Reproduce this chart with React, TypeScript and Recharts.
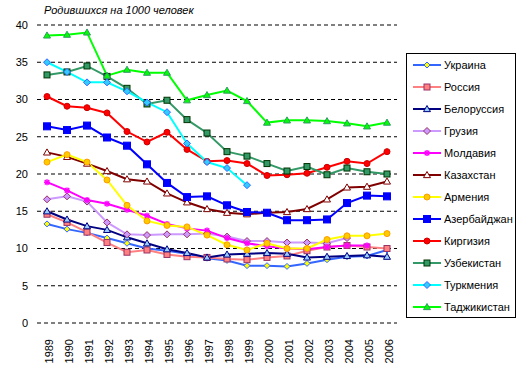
import { CartesianGrid, Line, LineChart, XAxis, YAxis } from 'recharts'

const years = [
  '1989', '1990', '1991', '1992', '1993', '1994', '1995', '1996', '1997',
  '1998', '1999', '2000', '2001', '2002', '2003', '2004', '2005', '2006',
]
const yTicks = [0, 5, 10, 15, 20, 25, 30, 35, 40]

const ukraine = [13.3, 12.6, 12.1, 11.4, 10.7, 10.0, 9.7, 9.3, 8.7, 8.4, 7.7, 7.7, 7.6, 8.0, 8.5, 8.9, 9.0, 9.8]
const russia = [14.6, 13.5, 12.2, 10.8, 9.5, 9.8, 9.2, 8.9, 8.8, 8.6, 8.5, 8.8, 9.0, 9.7, 10.2, 10.4, 10.2, 10.0]
const belarus = [15.0, 13.9, 13.0, 12.5, 11.5, 10.7, 9.9, 9.4, 8.8, 9.2, 9.3, 9.4, 9.3, 8.8, 8.9, 9.0, 9.1, 8.9]
const georgia = [16.6, 17.0, 16.3, 13.5, 11.9, 11.8, 11.9, 11.9, 12.0, 11.6, 11.0, 11.0, 10.8, 10.8, 10.7, 11.4, null, null]
const moldavia = [18.9, 17.8, 16.5, 16.0, 15.2, 14.4, 13.3, 12.7, 12.4, 11.4, 10.7, 10.3, 10.0, 9.9, 10.2, 10.4, 10.4, null]
const kazakhstan = [22.9, 22.3, 21.4, 20.4, 19.3, 19.0, 17.4, 16.2, 15.3, 14.8, 14.6, 14.8, 14.9, 15.3, 16.6, 18.2, 18.3, 19.0]
const armenia = [21.6, 22.6, 21.6, 19.2, 15.8, 13.7, 13.1, 12.9, 11.8, 10.5, 9.8, 10.7, 10.0, 10.0, 11.2, 11.7, 11.7, 12.0]
const azerbaijan = [26.4, 25.9, 26.5, 24.9, 23.8, 21.3, 18.8, 16.9, 17.0, 15.8, 14.9, 14.8, 13.8, 13.8, 13.9, 16.1, 17.1, 17.0]
const kirgizia = [30.4, 29.1, 28.9, 28.2, 25.7, 24.3, 25.6, 23.3, 21.7, 21.8, 21.4, 19.8, 19.9, 20.1, 20.9, 21.7, 21.4, 23.0]
const uzbekistan = [33.3, 33.7, 34.5, 33.1, 31.5, 29.4, 29.9, 27.3, 25.5, 23.0, 22.4, 21.4, 20.4, 21.0, 19.9, 20.8, 20.3, 20.0]
const turkmenia = [35.0, 33.7, 32.3, 32.3, 31.1, 29.6, 28.3, 24.1, 21.6, 20.8, 18.5, null, null, null, null, null, null, null]
const tajikistan = [38.6, 38.7, 39.0, 33.2, 34.0, 33.6, 33.6, 29.9, 30.6, 31.2, 29.8, 26.9, 27.2, 27.2, 27.1, 26.8, 26.4, 26.9]

type Shape = 'diamond' | 'square' | 'triangle' | 'circle' | 'star'

const series: {
  key: string
  name: string
  values: (number | null)[]
  color: string
  shape: Shape
  fill: string
  border: string
  size: number
}[] = [
  { key: 'ua', name: 'Украина', values: ukraine, color: '#3366ff', shape: 'diamond', fill: '#ffff00', border: '#3366ff', size: 3 },
  { key: 'ru', name: 'Россия', values: russia, color: '#ff8080', shape: 'square', fill: '#ff8080', border: '#993366', size: 3 },
  { key: 'by', name: 'Белоруссия', values: belarus, color: '#000080', shape: 'triangle', fill: '#99ccff', border: '#000080', size: 3.5 },
  { key: 'ge', name: 'Грузия', values: georgia, color: '#cc99ff', shape: 'diamond', fill: '#cc99ff', border: '#993366', size: 3.5 },
  { key: 'md', name: 'Молдавия', values: moldavia, color: '#ff00ff', shape: 'star', fill: '#ff00ff', border: '#ff00ff', size: 3 },
  { key: 'kz', name: 'Казахстан', values: kazakhstan, color: '#800000', shape: 'triangle', fill: '#ffffff', border: '#800000', size: 3.5 },
  { key: 'am', name: 'Армения', values: armenia, color: '#ffff00', shape: 'circle', fill: '#ffcc00', border: '#ff9900', size: 3 },
  { key: 'az', name: 'Азербайджан', values: azerbaijan, color: '#0000ff', shape: 'square', fill: '#0000ff', border: '#0000ff', size: 3.5 },
  { key: 'kg', name: 'Киргизия', values: kirgizia, color: '#ff0000', shape: 'circle', fill: '#ff0000', border: '#cc0000', size: 3 },
  { key: 'uz', name: 'Узбекистан', values: uzbekistan, color: '#339966', shape: 'square', fill: '#339966', border: '#003300', size: 3 },
  { key: 'tm', name: 'Туркмения', values: turkmenia, color: '#00ffff', shape: 'diamond', fill: '#33ccff', border: '#3366ff', size: 3.5 },
  { key: 'tj', name: 'Таджикистан', values: tajikistan, color: '#00ff00', shape: 'triangle', fill: '#00ff00', border: '#339966', size: 3.5 },
]

const chartData = years.map((year, i) => {
  const row: Record<string, string | number | null> = { year }
  series.forEach((s) => {
    row[s.key] = s.values[i]
  })
  return row
})

const font = '"Liberation Sans", Arial, sans-serif'

function Marker({ shape, cx, cy, fill, border, size }: {
  shape: Shape
  cx: number
  cy: number
  fill: string
  border: string
  size: number
}) {
  const s = size
  if (shape === 'diamond') {
    return <polygon points={`${cx},${cy - s} ${cx + s},${cy} ${cx},${cy + s} ${cx - s},${cy}`} fill={fill} stroke={border} strokeWidth={1} />
  }
  if (shape === 'square') {
    return <rect x={cx - s} y={cy - s} width={s * 2} height={s * 2} fill={fill} stroke={border} strokeWidth={1} />
  }
  if (shape === 'triangle') {
    return <polygon points={`${cx},${cy - s} ${cx + s},${cy + s * 0.75} ${cx - s},${cy + s * 0.75}`} fill={fill} stroke={border} strokeWidth={1} />
  }
  if (shape === 'circle') {
    return <circle cx={cx} cy={cy} r={s} fill={fill} stroke={border} strokeWidth={1} />
  }
  return (
    <g stroke={border} strokeWidth={1.5}>
      <line x1={cx - s} y1={cy} x2={cx + s} y2={cy} />
      <line x1={cx} y1={cy - s} x2={cx} y2={cy + s} />
      <line x1={cx - s * 0.75} y1={cy - s * 0.75} x2={cx + s * 0.75} y2={cy + s * 0.75} />
      <line x1={cx - s * 0.75} y1={cy + s * 0.75} x2={cx + s * 0.75} y2={cy - s * 0.75} />
    </g>
  )
}

function YearTick({ x, y, payload }: { x?: number; y?: number; payload?: { value: string } }) {
  return (
    <text
      transform={`translate(${(x ?? 0) + 2},${(y ?? 0) + 8}) rotate(-90)`}
      textAnchor="end"
      dominantBaseline="central"
      fontSize={11}
      fontFamily={font}
      fill="#000"
    >
      {payload?.value}
    </text>
  )
}

function renderLegend() {
  return (
    <div
      style={{
        position: 'absolute',
        left: 406,
        top: 53,
        width: 108,
        height: 263,
        border: '1px solid #000',
        background: '#fff',
        fontFamily: font,
        fontSize: 11,
      }}
    >
      {series.map((s, i) => (
        <div
          key={s.key}
          style={{ position: 'absolute', left: 6, top: 4 + i * 22, height: 14, display: 'flex', alignItems: 'center' }}
        >
          <svg width={28} height={14} style={{ display: 'block' }}>
            <line x1={0} y1={7} x2={28} y2={7} stroke={s.color} strokeWidth={2} />
            <Marker shape={s.shape} cx={14} cy={7} fill={s.fill} border={s.border} size={s.size} />
          </svg>
          <span style={{ marginLeft: 3, whiteSpace: 'nowrap' }}>{s.name}</span>
        </div>
      ))}
    </div>
  )
}

export default function App() {
  return (
    <div style={{ position: 'absolute', left: 0, top: 0, width: 528, height: 372, background: '#fff' }}>
      <style>{'body{margin:0}'}</style>
      <div
        style={{
          position: 'absolute',
          left: 44,
          top: 4,
          fontFamily: font,
          fontSize: 11,
          fontStyle: 'italic',
          whiteSpace: 'nowrap',
        }}
      >
        Родившихся на 1000 человек
      </div>
      <LineChart
        width={528}
        height={372}
        data={chartData}
        margin={{ top: 25, right: 131, left: 0, bottom: 0 }}
      >
        <CartesianGrid stroke="#000" strokeDasharray="4 3" vertical={false} horizontalFill={[]} />
        <XAxis
          dataKey="year"
          axisLine={false}
          tickLine={false}
          tick={<YearTick />}
          interval={0}
          height={49}
          padding={{ left: 10, right: 10 }}
        />
        <YAxis
          domain={[0, 40]}
          ticks={yTicks}
          axisLine={false}
          tickLine={false}
          tickSize={0}
          tickMargin={9}
          width={37}
          tick={{ fill: '#000', fontSize: 11, fontFamily: font }}
        />
        {series.map((s) => (
          <Line
            key={s.key}
            dataKey={s.key}
            name={s.name}
            stroke={s.color}
            strokeWidth={2}
            type="linear"
            connectNulls={false}
            isAnimationActive={false}
            activeDot={false}
            dot={(p: { cx?: number; cy?: number; index?: number; value?: unknown }) => {
              if (p.value == null || p.cx == null || p.cy == null) {
                return <g key={`${s.key}-${p.index}`} />
              }
              return (
                <Marker
                  key={`${s.key}-${p.index}`}
                  shape={s.shape}
                  cx={p.cx}
                  cy={p.cy}
                  fill={s.fill}
                  border={s.border}
                  size={s.size}
                />
              )
            }}
          />
        ))}
      </LineChart>
      {renderLegend()}
    </div>
  )
}
